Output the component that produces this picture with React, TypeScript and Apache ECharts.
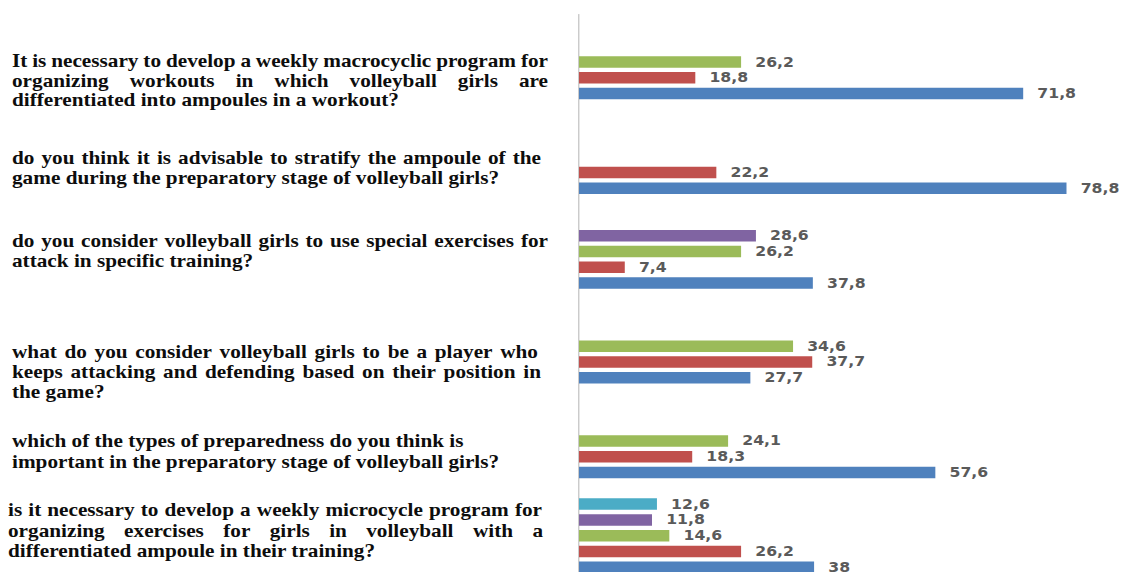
import React, { useEffect, useRef } from "react";
import * as echarts from "echarts";

// ---- data ----
const questionLines: string[][] = [
  [
    "It is necessary to develop a weekly macrocyclic program for",
    "organizing workouts in which volleyball girls are",
    "differentiated into ampoules in a workout?",
  ],
  [
    "do you think it is advisable to stratify the ampoule of the",
    "game during the preparatory stage of volleyball girls?",
  ],
  [
    "do you consider volleyball girls to use special exercises for",
    "attack in specific training?",
  ],
  [
    "what do you consider volleyball girls to be a player who",
    "keeps attacking and defending based on their position in",
    "the game?",
  ],
  [
    "which of the types of preparedness do you think is",
    "important in the preparatory stage of volleyball girls?",
  ],
  [
    "is it necessary to develop a weekly microcycle program for",
    "organizing exercises for girls in volleyball with a",
    "differentiated ampoule in their training?",
  ],
];
const categories = questionLines.map((l) => l.join(" "));

const blueValues = [71.8, 78.8, 37.8, 27.7, 57.6, 38];
const redValues = [18.8, 22.2, 7.4, 37.7, 18.3, 26.2];
const greenValues = [26.2, null, 26.2, 34.6, 24.1, 14.6];
const purpleValues = [null, null, 28.6, null, null, 11.8];
const cyanValues = [null, null, null, null, null, 12.6];

// ---- layout (reference pixels, before horizontal stretch) ----
const S = 1.18; // horizontal stretch of the reference picture
const W = 1126 / S;
const VIEW_H = 572;
const TOP = 14.6;
const BAND_H = 94.8;
const CHART_H = TOP + BAND_H * categories.length;
const questionLeft = [12, 12, 12, 12, 12, 8];
const questionLineY = [
  [61, 80.2, 99.2],
  [157.3, 177.3],
  [241, 261],
  [352, 372, 392],
  [441, 462],
  [510, 531, 551],
];
const questionJustify: (number | null)[][] = [
  [548, 548, null],
  [541, null],
  [548, null],
  [538, 541, null],
  [null, null],
  [542, 543, null],
];

const QFONT_SIZE = 18;
const QFONT_FAMILY = '"Liberation Serif", "Times New Roman", serif';

function buildQuestionGraphics() {
  const canvas = document.createElement("canvas");
  const ctx = canvas.getContext("2d")!;
  ctx.font = `bold ${QFONT_SIZE}px ${QFONT_FAMILY}`;
  const spaceW = ctx.measureText(" ").width;
  const els: any[] = [];
  const mk = (text: string, x: number, y: number) => ({
    type: "text",
    x,
    y,
    silent: true,
    style: {
      text,
      fontSize: QFONT_SIZE,
      fontFamily: QFONT_FAMILY,
      fontWeight: "bold",
      fill: "#0d0d0d",
      align: "left",
      verticalAlign: "middle",
    },
  });
  questionLines.forEach((lines, i) => {
    lines.forEach((line, j) => {
      const y = questionLineY[i][j];
      const x0 = questionLeft[i] / S;
      const right = questionJustify[i][j];
      if (right != null) {
        const words = line.split(" ");
        const widths = words.map((w) => ctx.measureText(w).width);
        const sum = widths.reduce((a, b) => a + b, 0);
        const gap = (right / S - x0 - sum) / (words.length - 1);
        if (words.length > 1 && gap > spaceW * 0.6) {
          let x = x0;
          words.forEach((w, k) => {
            els.push(mk(w, x, y));
            x += widths[k] + gap;
          });
          return;
        }
      }
      els.push(mk(line, x0, y));
    });
  });
  return els;
}

const fmt = (p: any) => String(p.value).replace(".", ",");

export default function App() {
  const ref = useRef<HTMLDivElement>(null);
  useEffect(() => {
    document.documentElement.style.overflow = "hidden";
    const chart = echarts.init(ref.current!, null, { renderer: "svg" });
    const label = {
      show: true,
      position: "right",
      distance: 12,
      formatter: fmt,
      fontFamily: '"DejaVu Sans", sans-serif',
      fontSize: 13.3,
      fontWeight: "bold",
      color: "#5a5a5a",
    };
    const mkSeries = (name: string, data: (number | null)[], color: string) => ({
      name,
      type: "bar",
      data,
      barWidth: 11.5,
      barGap: "37%",
      itemStyle: { color },
      label,
    });
    const gridLeft = 579 / S;
    const pxPerUnit = 6.19 / S;
    const xMax = 80;
    chart.setOption({
      animation: false,
      grid: {
        left: gridLeft,
        top: TOP,
        right: W - gridLeft - xMax * pxPerUnit,
        bottom: 0,
        containLabel: false,
      },
      xAxis: {
        type: "value",
        min: 0,
        max: xMax,
        show: false,
      },
      yAxis: {
        type: "category",
        inverse: true,
        data: categories,
        axisLabel: { show: false },
        axisTick: { show: false },
        axisLine: { show: true, lineStyle: { color: "#bfbfbf", width: 1 } },
      },
      series: [
        mkSeries("Series 5", cyanValues, "#4BACC6"),
        mkSeries("Series 4", purpleValues, "#8064A2"),
        mkSeries("Series 3", greenValues, "#9BBB59"),
        mkSeries("Series 2", redValues, "#C0504D"),
        mkSeries("Series 1", blueValues, "#4F81BD"),
      ],
      graphic: buildQuestionGraphics(),
    });
    return () => chart.dispose();
  }, []);
  return (
    <div
      style={{
        position: "absolute",
        left: 0,
        top: 0,
        width: 1126,
        height: VIEW_H,
        overflow: "hidden",
        background: "#fff",
      }}
    >
      <div
        ref={ref}
        style={{
          width: W,
          height: CHART_H,
          transform: `scaleX(${S})`,
          transformOrigin: "0 0",
        }}
      />
    </div>
  );
}
